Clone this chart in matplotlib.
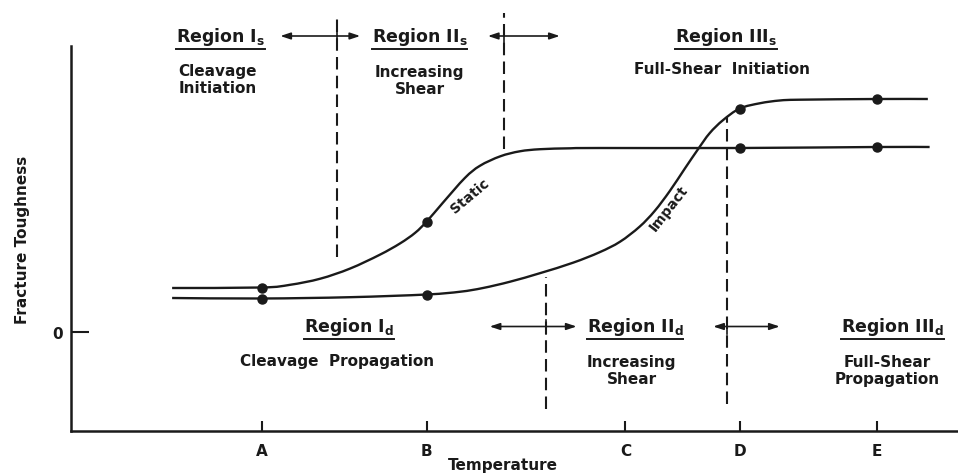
import matplotlib
matplotlib.use("Agg")
import matplotlib.pyplot as plt
from matplotlib.lines import Line2D
from matplotlib.path import Path
from matplotlib.patches import PathPatch

plt.rcParams['font.family'] = ['DejaVu Sans']
INK = '#1a1a1a'

# Temperature axis (arbitrary units) and reference temperatures
tick_names = ['A', 'B', 'C', 'D', 'E']
tick_temps = [21.5, 40.1, 62.5, 75.4, 90.9]

# Static fracture-toughness curve
static_t = [11.4, 21.5, 24.7, 28.1, 31.45, 34.8, 37.1, 38.8, 40.1, 41.9,
            44.4, 46.1, 48.4, 50.6, 52.9, 56.3, 59.6, 75.4, 90.9, 96.8]
static_k = [4.4, 4.45, 4.72, 5.33, 6.34, 7.72, 8.86, 9.92, 11.05, 12.9,
            15.4, 16.62, 17.57, 18.07, 18.28, 18.37, 18.4, 18.4, 18.5, 18.5]

# Impact fracture-toughness curve
impact_t = [11.4, 21.5, 31.45, 40.1, 43.9, 46.45, 49.5, 52.9, 56.6, 59.6, 61.9,
            64.1, 65.8, 67.5, 69.2, 70.7, 72.0, 73.5, 75.4, 77.7, 79.9,
            82.2, 90.9, 96.6]
impact_k = [3.4, 3.35, 3.48, 3.75, 4.03, 4.4, 5.03, 5.89, 6.93, 7.98, 9.03,
            10.53, 12.1, 14.09, 16.34, 18.29, 19.88, 21.18, 22.35, 22.88,
            23.15, 23.23, 23.3, 23.3]

# Measured points at temperatures A, B, D, E
point_t = [21.5, 40.1, 75.4, 90.9]
static_pts = [4.45, 11.05, 18.4, 18.5]
impact_pts = [3.35, 3.75, 22.35, 23.3]

# Region boundaries (temperature, lower end, upper end)
bound_t = [30.0, 48.8, 53.6, 74.0]
bound_lo = [7.5, 18.3, -7.7, -7.2]
bound_hi = [31.8, 31.9, 5.5, 21.5]


def smooth_path(xs, ys):
    """Catmull-Rom curve through the given points, as cubic Bezier segments."""
    pts = list(zip(xs, ys))
    n = len(pts)
    verts = [pts[0]]
    codes = [Path.MOVETO]
    for i in range(n - 1):
        p0 = pts[max(i - 1, 0)]
        p1 = pts[i]
        p2 = pts[i + 1]
        p3 = pts[min(i + 2, n - 1)]
        c1 = (p1[0] + (p2[0] - p0[0]) / 6, p1[1] + (p2[1] - p0[1]) / 6)
        c2 = (p2[0] - (p3[0] - p1[0]) / 6, p2[1] - (p3[1] - p1[1]) / 6)
        verts += [c1, c2, p2]
        codes += [Path.CURVE4] * 3
    return Path(verts, codes)


fig = plt.figure(figsize=(9.58, 4.77), dpi=100)
ax = fig.add_axes([71 / 958, 45 / 477, 887 / 958, 385 / 477])
ax.set_xlim(0, 100)
ax.set_ylim(-9.9, 28.6)

for s in ['top', 'right']:
    ax.spines[s].set_visible(False)
for s in ['left', 'bottom']:
    ax.spines[s].set_linewidth(1.8)
    ax.spines[s].set_color(INK)

ax.set_xticks(tick_temps)
ax.set_xticklabels(tick_names, fontsize=11, fontweight='bold')
ax.set_yticks([0])
ax.set_yticklabels(['0'], fontsize=11, fontweight='bold')
ax.tick_params(axis='x', direction='in', length=7.5, width=1.5, pad=9, colors=INK)
ax.tick_params(axis='y', direction='in', length=13, width=1.5, pad=6, colors=INK)

ax.set_xlabel('Temperature', fontsize=11, color=INK, fontweight='bold')
ax.xaxis.set_label_coords(0.487, -0.068)
ax.set_ylabel('Fracture Toughness', fontsize=11, color=INK, fontweight='bold')
ax.yaxis.set_label_coords(-0.046, 0.5)

# Curves and measured points
for ts, ks in ((static_t, static_k), (impact_t, impact_k)):
    ax.add_patch(PathPatch(smooth_path(ts, ks), fill=False, edgecolor=INK,
                           lw=1.7, capstyle='butt'))
ax.plot(point_t, static_pts, 'o', color=INK, ms=6.5)
ax.plot(point_t, impact_pts, 'o', color=INK, ms=6.5)

# Region boundaries
for t, lo, hi in zip(bound_t, bound_lo, bound_hi):
    ax.plot([t, t], [lo, hi], color=INK, lw=1.5, dashes=(6, 3), clip_on=False)

# Double arrows across the boundaries
arrow_y = [29.6, 29.6, 0.55, 0.55]
arrow_left = [23.6, 47.0, 47.2, 72.4]
arrow_right = [32.6, 55.1, 57.0, 79.9]
for t, y, l, r in zip(bound_t, arrow_y, arrow_left, arrow_right):
    for end in (l, r):
        ax.annotate('', xy=(end, y), xytext=(t, y), annotation_clip=False,
                    arrowprops=dict(arrowstyle='-|>,head_length=0.6,head_width=0.2',
                                    color=INK, lw=1.2, shrinkA=0, shrinkB=0))
    ax.plot([t, t], [y - 0.7, y + 0.7], color=INK, lw=1.2, clip_on=False)

# Region titles and descriptions
titles = [(16.9, 29.6, 'Region I$_\\mathregular{s}$'),
          (39.3, 29.6, 'Region II$_\\mathregular{s}$'),
          (73.8, 29.6, 'Region III$_\\mathregular{s}$'),
          (31.3, 0.55, 'Region I$_\\mathregular{d}$'),
          (63.6, 0.55, 'Region II$_\\mathregular{d}$'),
          (92.6, 0.55, 'Region III$_\\mathregular{d}$')]
notes = [(16.5, 25.3, 'Cleavage\nInitiation'),
         (39.3, 25.2, 'Increasing\nShear'),
         (73.4, 26.3, 'Full-Shear  Initiation'),
         (30.0, -2.9, 'Cleavage  Propagation'),
         (63.2, -3.8, 'Increasing\nShear'),
         (92.0, -3.8, 'Full-Shear\nPropagation')]

title_artists = []
for x, y, s in titles:
    title_artists.append(ax.text(x, y, s, fontsize=12.5, color=INK, ha='center',
                                 va='center', fontweight='bold', clip_on=False))
for x, y, s in notes:
    ax.text(x, y, s, fontsize=11, color=INK, ha='center', va='center',
            fontweight='bold', linespacing=1.15, clip_on=False)

ax.text(45.0, 13.7, 'Static', fontsize=10, color=INK, rotation=40,
        ha='center', va='center', fontweight='bold')
ax.text(67.4, 12.4, 'Impact', fontsize=10, color=INK, rotation=52,
        ha='center', va='center', fontweight='bold')

# Underline each region title
fig.canvas.draw()
renderer = fig.canvas.get_renderer()
inv = fig.transFigure.inverted()
for t in title_artists:
    bb = t.get_window_extent(renderer)
    (x0, y0), (x1, _) = inv.transform([(bb.x0, bb.y0 - 1.5), (bb.x1, bb.y0)])
    fig.add_artist(Line2D([x0, x1], [y0, y0], color=INK, lw=1.4))

fig.savefig('out.png', dpi=100)
